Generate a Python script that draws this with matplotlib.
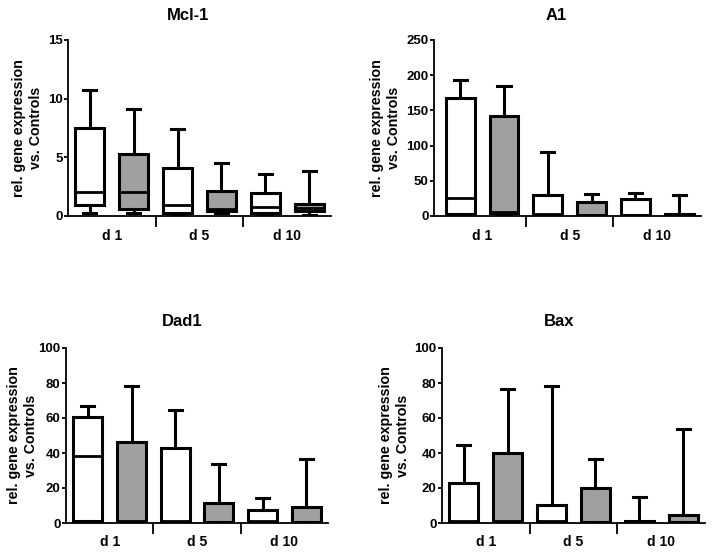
import matplotlib
matplotlib.use('Agg')
import matplotlib.pyplot as plt

plt.rcParams['font.family'] = ['Liberation Sans', 'DejaVu Sans']
plt.rcParams['font.weight'] = 'bold'

# day groups, two boxes per group (white = first series, gray = second series)
groups = ['d 1', 'd 5', 'd 10']
fillColors = ['white', '#a0a0a0', 'white', '#a0a0a0', 'white', '#a0a0a0']

# box statistics: min, q1, median, q3, max
mclMin = [0.28, 0.28, 0.1, 0.25, 0.15, 0.1]
mclQ1 = [0.91, 0.57, 0.23, 0.4, 0.25, 0.45]
mclMed = [2.02, 2.08, 0.91, 0.6, 0.79, 0.72]
mclQ3 = [7.5, 5.3, 4.1, 2.16, 1.96, 1.0]
mclMax = [10.7, 9.1, 7.4, 4.53, 3.56, 3.85]

a1Min = [0.5, 0.5, 0.5, 0.5, 0.5, 0.2]
a1Q1 = [3.0, 4.0, 2.0, 1.5, 1.5, 0.5]
a1Med = [25.0, 5.5, 3.0, 2.0, 2.0, 1.0]
a1Q3 = [167.0, 142.0, 30.0, 20.0, 24.0, 2.5]
a1Max = [193.0, 185.0, 91.0, 31.0, 33.0, 29.5]

dadMin = [0.3, 0.3, 0.3, 0.2, 0.2, 0.2]
dadQ1 = [1.1, 0.5, 0.7, 0.4, 0.5, 0.4]
dadMed = [38.5, 1.0, 1.2, 0.8, 1.0, 0.8]
dadQ3 = [60.8, 46.3, 42.9, 11.2, 7.4, 9.0]
dadMax = [66.9, 78.3, 64.8, 33.5, 14.5, 36.6]

baxMin = [0.2, 0.2, 0.2, 0.2, 0.2, 0.2]
baxQ1 = [0.5, 0.5, 0.5, 0.4, 0.4, 0.4]
baxMed = [1.0, 1.2, 1.0, 0.8, 0.8, 0.8]
baxQ3 = [22.7, 40.0, 10.5, 20.2, 1.2, 4.8]
baxMax = [44.4, 76.6, 78.5, 36.8, 14.9, 53.5]

panels = [
    ('Mcl-1', mclMin, mclQ1, mclMed, mclQ3, mclMax, 15, 5),
    ('A1', a1Min, a1Q1, a1Med, a1Q3, a1Max, 250, 50),
    ('Dad1', dadMin, dadQ1, dadMed, dadQ3, dadMax, 100, 20),
    ('Bax', baxMin, baxQ1, baxMed, baxQ3, baxMax, 100, 20),
]

W, H = 714, 554
# axes boxes in pixels: left, top, right, bottom
axBoxes = [(68, 40, 331, 216), (434, 40, 701, 216),
           (66, 348, 328, 523), (442, 348, 705, 523)]
titlePos = [(188, 16), (556, 16), (182, 322), (559, 322)]
# right edge (pixels) of the rotated y label
ylabRight = [43, 401, 38, 410]
xLeft = [-0.5, -0.6, -0.5, -0.5]

fig = plt.figure(figsize=(W / 100, H / 100), dpi=100)

for i, (name, lo, q1, med, q3, hi, ymax, ystep) in enumerate(panels):
    l, t, r, b = axBoxes[i]
    ax = fig.add_axes([l / W, 1 - b / H, (r - l) / W, (b - t) / H])

    stats = []
    for k in range(6):
        stats.append({'whislo': lo[k], 'q1': q1[k], 'med': med[k],
                      'q3': q3[k], 'whishi': hi[k], 'fliers': []})
    bp = ax.bxp(stats, positions=list(range(6)), widths=0.66, capwidths=0.3,
                patch_artist=True, showfliers=False,
                boxprops=dict(linewidth=2.2, edgecolor='black'),
                medianprops=dict(color='black', linewidth=2),
                whiskerprops=dict(color='black', linewidth=2.2),
                capprops=dict(color='black', linewidth=2.2))
    for patch, c in zip(bp['boxes'], fillColors):
        patch.set_facecolor(c)

    ax.set_xlim(xLeft[i], 5.5)
    ax.set_ylim(0, ymax)
    ax.set_yticks(range(0, ymax + 1, ystep))
    ax.spines['top'].set_visible(False)
    ax.spines['right'].set_visible(False)
    ax.spines['left'].set_linewidth(1.3)
    ax.spines['bottom'].set_linewidth(1.3)
    for sp in ['left', 'bottom']:
        ax.spines[sp].set_clip_on(False)

    # group separators as major ticks, group names as minor tick labels
    ax.set_xticks([1.5, 3.5])
    ax.set_xticklabels(['', ''])
    ax.set_xticks([0.5, 2.5, 4.5], minor=True)
    ax.set_xticklabels(groups, minor=True, fontsize=10, fontweight='bold')
    ax.tick_params(axis='x', which='major', length=8, width=1.3, direction='out')
    ax.tick_params(axis='x', which='minor', length=0, pad=9)
    ax.tick_params(axis='y', length=3, width=1.3, labelsize=9.5, pad=1)
    for lab in ax.get_yticklabels():
        lab.set_fontweight('bold')

    ax.set_ylabel('rel. gene expression\nvs. Controls', fontsize=10.3,
                  fontweight='bold', linespacing=1.25)
    ax.yaxis.set_label_coords((ylabRight[i] - l) / (r - l), 0.5)

    tx, ty = titlePos[i]
    fig.text(tx / W, 1 - ty / H, name, ha='center', va='center',
             fontsize=12, fontweight='bold')

fig.savefig('out.png', dpi=100)
